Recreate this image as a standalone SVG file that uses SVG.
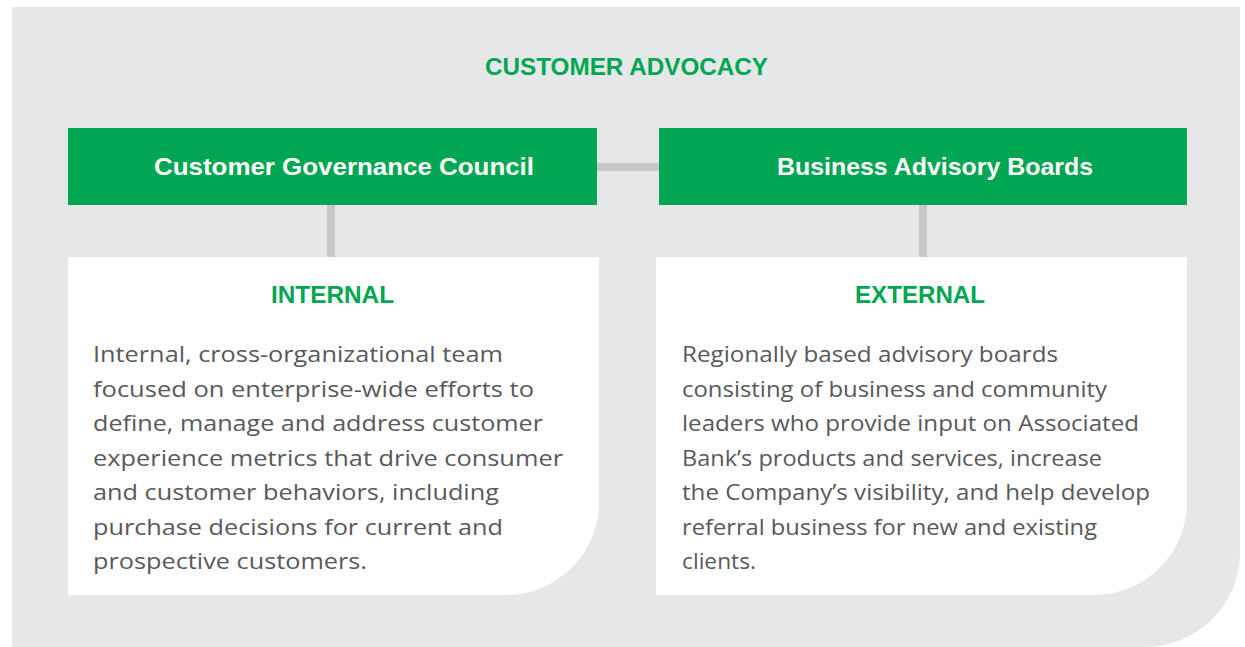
<svg xmlns="http://www.w3.org/2000/svg" width="1245" height="647" viewBox="0 0 1245 647">
  <style>
    .title { font-family: "Liberation Sans", Arial, sans-serif; font-weight: bold; font-size: 24px; fill: #00a651; }
    .head { font-family: "Liberation Sans", Arial, sans-serif; font-weight: bold; font-size: 24px; fill: #ffffff; }
    .sub { font-family: "Liberation Sans", Arial, sans-serif; font-weight: bold; font-size: 24px; fill: #00a651; }
    .body { font-family: "Open Sans", "Liberation Sans", Arial, sans-serif; font-size: 22px; fill: #58595b; }
    .green { fill: #00a651; }
    .white { fill: #ffffff; }
    .conn { fill: #c8c8ca; }
  </style>
  <path d="M12,7 H1240 V552 A95,95 0 0 1 1145,647 H12 Z" fill="#e6e7e8"/>
  <text class="title" x="485" y="75" textLength="283" lengthAdjust="spacingAndGlyphs">CUSTOMER ADVOCACY</text>

  <g id="connectors">
    <rect class="conn" x="597" y="163" width="62" height="8"/>
    <rect class="conn" x="327" y="205" width="8" height="52"/>
    <rect class="conn" x="919" y="205" width="8" height="52"/>
  </g>

  <g id="governance">
    <rect class="green" x="68" y="128" width="529" height="77"/>
    <text class="head" x="154" y="175" textLength="380" lengthAdjust="spacingAndGlyphs">Customer Governance Council</text>
  </g>

  <g id="advisory">
    <rect class="green" x="659" y="128" width="528" height="77"/>
    <text class="head" x="777" y="175" textLength="316" lengthAdjust="spacingAndGlyphs">Business Advisory Boards</text>
  </g>

  <g id="internal">
    <path class="white" d="M68,257 H599 V502 A93,93 0 0 1 506,595 H68 Z"/>
    <text class="sub" x="271" y="303" textLength="123" lengthAdjust="spacingAndGlyphs">INTERNAL</text>
    <text class="body" x="93" y="362" textLength="410" lengthAdjust="spacingAndGlyphs">Internal, cross-organizational team</text>
    <text class="body" x="93" y="396.5" textLength="441" lengthAdjust="spacingAndGlyphs">focused on enterprise-wide efforts to</text>
    <text class="body" x="93" y="431" textLength="450" lengthAdjust="spacingAndGlyphs">define, manage and address customer</text>
    <text class="body" x="93" y="465.5" textLength="470" lengthAdjust="spacingAndGlyphs">experience metrics that drive consumer</text>
    <text class="body" x="93" y="500" textLength="406" lengthAdjust="spacingAndGlyphs">and customer behaviors, including</text>
    <text class="body" x="93" y="534.5" textLength="410" lengthAdjust="spacingAndGlyphs">purchase decisions for current and</text>
    <text class="body" x="93" y="569" textLength="274" lengthAdjust="spacingAndGlyphs">prospective customers.</text>
  </g>

  <g id="external">
    <path class="white" d="M656,257 H1187 V502 A93,93 0 0 1 1094,595 H656 Z"/>
    <text class="sub" x="855" y="303" textLength="130" lengthAdjust="spacingAndGlyphs">EXTERNAL</text>
    <text class="body" x="682" y="362" textLength="376" lengthAdjust="spacingAndGlyphs">Regionally based advisory boards</text>
    <text class="body" x="682" y="396.5" textLength="425" lengthAdjust="spacingAndGlyphs">consisting of business and community</text>
    <text class="body" x="682" y="431" textLength="457" lengthAdjust="spacingAndGlyphs">leaders who provide input on Associated</text>
    <text class="body" x="682" y="465.5" textLength="420" lengthAdjust="spacingAndGlyphs">Bank’s products and services, increase</text>
    <text class="body" x="682" y="500" textLength="468" lengthAdjust="spacingAndGlyphs">the Company’s visibility, and help develop</text>
    <text class="body" x="682" y="534.5" textLength="415" lengthAdjust="spacingAndGlyphs">referral business for new and existing</text>
    <text class="body" x="682" y="569" textLength="74" lengthAdjust="spacingAndGlyphs">clients.</text>
  </g>
</svg>
